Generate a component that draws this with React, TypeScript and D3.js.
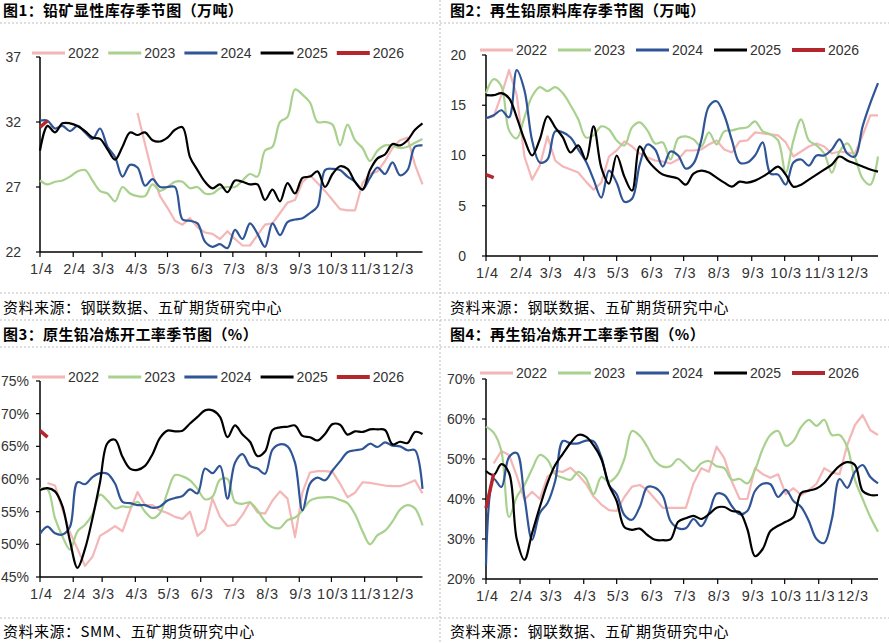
import React from "react";
import * as d3 from "d3";

// series order and colours
const years = ["2022", "2023", "2024", "2025", "2026"];
const colors = ["#F4B6B6", "#A9D18E", "#2F5597", "#000000", "#B3262C"];

// x-axis ticks (month/day)
const tickLabels = ["1/4", "2/4", "3/3", "4/3", "5/3", "6/3", "7/3", "8/3", "9/3", "10/3", "11/3", "12/3"];
const tickDays = [[0, 4], [1, 4], [2, 3], [3, 3], [4, 3], [5, 3], [6, 3], [7, 3], [8, 3], [9, 3], [10, 3], [11, 3]];

const N = (n: number) => Array(n).fill(null) as (number | null)[];

// 图1 铅矿显性库存 (万吨), weekly from 1/4
const ore2022 = [...N(13), 32.7, 30.3, 28.0, 26.3, 25.4, 24.4, 24.1, 24.6, 23.9, 23.5, 23.4, 23.0, 23.6, 23.0, 22.5, 22.5, 23.3, 24.1, 24.2, 25.0, 25.8, 26.0, 27.4, 27.9, 27.3, 26.7, 26.0, 25.3, 25.2, 25.2, 27.3, 28.0, 28.2, 29.0, 30.0, 30.6, 30.8, 28.7, 27.2];
const ore2023 = [27.5, 27.2, 27.4, 27.5, 27.8, 28.2, 28.3, 27.5, 26.7, 26.5, 25.9, 27.0, 26.5, 26.3, 26.3, 27.2, 26.7, 27.0, 27.4, 27.4, 26.9, 27.0, 26.5, 26.5, 26.9, 27.0, 27.0, 27.5, 28.0, 27.8, 29.8, 30.1, 32.0, 32.4, 34.5, 34.1, 33.5, 32.0, 32.0, 31.8, 30.2, 31.8, 30.6, 30.0, 29.0, 29.8, 30.2, 30.2, 30.0, 30.1, 30.4, 30.7];
const ore2024 = [32.1, 32.1, 31.5, 31.7, 31.3, 31.7, 31.2, 30.7, 31.5, 30.1, 29.3, 27.8, 28.7, 28.5, 27.1, 27.6, 27.0, 27.0, 27.0, 24.5, 24.4, 24.2, 22.8, 22.4, 22.6, 22.3, 23.7, 23.0, 24.2, 23.4, 22.4, 24.2, 23.3, 24.3, 24.5, 24.6, 25.0, 25.5, 28.3, 28.4, 28.3, 27.8, 27.4, 26.8, 27.7, 28.5, 28.0, 28.9, 27.9, 28.3, 30.1, 30.2];
const ore2025 = [29.8, 31.7, 31.2, 31.9, 31.9, 31.7, 31.3, 30.8, 30.7, 29.9, 29.1, 30.1, 31.2, 31.0, 31.2, 30.6, 30.5, 30.8, 31.4, 31.6, 29.3, 28.3, 27.4, 26.9, 27.2, 26.6, 27.5, 27.4, 27.2, 27.2, 26.0, 26.8, 25.9, 27.3, 26.5, 27.7, 27.8, 28.2, 27.0, 28.0, 28.6, 28.4, 27.4, 26.8, 28.3, 29.2, 29.5, 30.3, 30.2, 30.6, 31.4, 31.9];
const ore2026 = [31.6, 32.1];

// 图2 再生铅原料库存 (万吨)
const scrap2022 = [13.7, 13.9, 16.0, 18.5, 16.0, 9.9, 7.6, 9.0, 11.9, 9.5, 8.9, 8.6, 8.3, 7.4, 6.6, 7.3, 9.9, 10.5, 11.4, 10.9, 10.2, 9.8, 9.5, 9.4, 9.2, 9.6, 10.5, 10.5, 10.6, 11.1, 11.5, 10.6, 10.3, 11.4, 11.5, 12.3, 12.2, 12.1, 12.0, 11.3, 9.9, 10.4, 10.9, 11.2, 10.9, 10.2, 10.4, 10.3, 10.2, 12.0, 14.0, 14.0];
const scrap2023 = [16.2, 17.6, 16.9, 12.5, 11.7, 13.8, 15.9, 16.8, 16.4, 16.8, 16.2, 15.0, 13.6, 11.8, 12.0, 12.9, 12.6, 11.5, 11.0, 12.8, 13.3, 12.5, 11.2, 11.3, 9.6, 11.7, 11.9, 11.6, 10.9, 12.3, 11.1, 12.4, 12.5, 12.7, 12.8, 13.4, 12.4, 12.1, 11.5, 8.3, 11.5, 13.6, 11.5, 11.0, 10.2, 8.3, 10.4, 11.2, 9.8, 7.7, 7.1, 9.9];
const scrap2024 = [13.7, 14.0, 14.5, 13.8, 18.5, 16.5, 11.5, 9.3, 9.6, 12.4, 12.3, 11.8, 10.6, 9.4, 7.6, 5.8, 8.5, 7.3, 5.4, 5.7, 9.1, 11.1, 10.6, 8.9, 10.4, 10.0, 8.7, 9.2, 11.5, 14.9, 15.4, 14.0, 11.5, 9.3, 9.3, 10.0, 11.3, 8.2, 8.1, 7.1, 9.3, 9.6, 9.0, 10.0, 10.0, 10.6, 11.6, 10.2, 9.9, 12.9, 15.2, 17.2];
const scrap2025 = [16.0, 16.0, 16.2, 15.7, 13.8, 11.6, 10.0, 11.6, 13.9, 12.8, 11.8, 10.3, 11.0, 9.6, 12.9, 8.8, 7.2, 10.0, 7.9, 6.5, 10.9, 9.6, 8.7, 8.1, 7.9, 7.7, 7.1, 8.2, 8.5, 8.3, 7.8, 7.3, 6.9, 7.4, 7.3, 7.5, 7.9, 8.4, 8.9, 8.1, 6.9, 7.1, 7.6, 8.1, 8.6, 9.1, 9.9, 9.5, 9.2, 8.9, 8.6, 8.4];
const scrap2026 = [8.1, 7.8];

// 图3 原生铅冶炼开工率 (%)
const primary2022 = [...N(1), 59.4, 59.0, 55.3, 51.8, 49.3, 46.7, 48.1, 51.3, 52.0, 52.8, 52.0, 55.2, 58.0, 56.0, 56.0, 55.2, 54.8, 54.2, 53.9, 55.0, 51.3, 52.3, 57.0, 54.2, 52.8, 53.0, 54.5, 56.5, 54.9, 54.7, 56.7, 58.1, 57.0, 51.1, 58.0, 61.0, 61.2, 61.2, 61.1, 59.3, 57.2, 57.9, 59.5, 59.4, 59.2, 59.0, 58.9, 58.9, 59.3, 59.8, 57.8];
const primary2023 = [58.5, 58.4, 54.0, 51.2, 49.2, 52.0, 53.0, 54.6, 57.6, 56.7, 55.5, 55.8, 55.7, 56.5, 55.0, 54.0, 54.8, 58.0, 60.6, 60.4, 59.8, 58.5, 56.9, 57.3, 59.9, 60.0, 56.5, 56.2, 56.4, 55.2, 53.5, 52.6, 52.5, 53.7, 54.1, 55.2, 56.7, 57.1, 57.2, 57.2, 56.8, 56.3, 54.6, 52.0, 50.0, 51.4, 52.1, 53.5, 55.3, 56.0, 55.5, 52.9];
const primary2024 = [51.6, 52.7, 51.7, 51.5, 52.7, 59.5, 59.2, 60.3, 60.9, 60.8, 59.3, 56.5, 56.3, 56.0, 56.0, 55.6, 55.8, 56.7, 57.1, 57.4, 58.4, 57.8, 61.6, 60.9, 62.0, 57.0, 62.5, 63.8, 62.0, 61.6, 60.8, 64.5, 65.3, 65.0, 62.5, 55.2, 59.3, 60.2, 59.8, 61.3, 62.7, 64.1, 64.4, 64.6, 65.4, 64.9, 65.6, 65.1, 65.0, 64.4, 64.4, 58.5];
const primary2025 = [58.3, 58.6, 58.1, 55.8, 50.5, 46.4, 49.3, 54.0, 59.5, 65.5, 66.0, 63.4, 61.6, 61.4, 62.0, 63.8, 66.3, 67.4, 67.3, 67.4, 68.5, 69.5, 70.5, 70.5, 69.5, 66.4, 68.2, 66.8, 65.7, 63.5, 64.2, 67.5, 67.9, 68.0, 68.2, 66.6, 66.4, 65.9, 66.9, 68.4, 68.3, 66.8, 67.3, 67.2, 67.6, 67.6, 67.5, 65.3, 65.7, 65.5, 67.2, 66.9];
const primary2026 = [67.4, 66.4];

// 图4 再生铅冶炼开工率 (%)
const secondary2022 = [...N(1), 48.9, 52.0, 51.0, 45.8, 39.8, 41.8, 40.0, 45.6, 47.0, 46.8, 47.8, 46.0, 43.8, 40.6, 38.6, 37.2, 37.0, 40.5, 43.1, 43.5, 42.2, 40.0, 37.8, 37.8, 37.8, 37.8, 43.9, 47.7, 46.8, 53.1, 50.2, 44.3, 40.0, 40.0, 47.7, 46.2, 45.3, 46.2, 41.2, 42.7, 41.0, 42.2, 43.8, 47.7, 46.6, 46.2, 53.5, 58.5, 61.0, 57.2, 56.0];
const secondary2023 = [58.1, 56.6, 52.0, 35.5, 40.5, 43.5, 47.5, 51.0, 49.8, 46.2, 45.3, 44.8, 46.8, 45.2, 41.2, 45.5, 44.3, 45.8, 50.0, 57.0, 55.8, 53.0, 49.5, 48.1, 48.2, 50.0, 48.5, 47.0, 48.9, 49.5, 48.2, 47.7, 44.8, 45.0, 43.9, 47.3, 52.5, 56.0, 57.0, 53.3, 54.5, 58.0, 59.8, 58.3, 59.8, 56.0, 56.0, 53.0, 44.8, 40.0, 35.5, 31.8];
const secondary2024 = [23.5, 45.0, 43.0, 50.5, 51.5, 40.5, 29.8, 36.5, 39.0, 44.5, 54.5, 53.9, 53.9, 54.6, 54.4, 50.5, 43.5, 41.2, 36.0, 34.8, 38.0, 43.0, 42.8, 40.8, 34.5, 32.7, 32.7, 35.0, 33.2, 36.5, 41.3, 41.0, 38.2, 36.2, 37.0, 42.0, 43.8, 43.7, 40.5, 42.3, 39.5, 38.0, 34.5, 30.0, 29.0, 35.0, 45.0, 42.8, 46.8, 48.5, 45.5, 43.9];
const secondary2025 = [47.0, 46.0, 48.7, 46.5, 30.0, 24.8, 31.5, 38.0, 44.0, 48.5, 51.3, 54.0, 56.0, 55.6, 53.4, 50.0, 43.5, 39.5, 33.0, 32.3, 32.6, 31.0, 29.8, 29.7, 29.9, 34.3, 35.2, 35.8, 35.0, 36.2, 37.8, 38.0, 37.0, 36.7, 32.5, 25.7, 27.5, 32.0, 33.3, 34.3, 35.5, 41.5, 42.1, 42.6, 44.0, 46.3, 48.3, 49.2, 48.5, 42.0, 41.0, 41.0];
const secondary2026 = [37.7, 46.3];

const weeks = d3.range(52).map((i) => new Date(2025, 0, 4 + 7 * i));
const tickDates = tickDays.map(([m, d]) => new Date(2025, m, d));

const font = "'Liberation Sans', 'Noto Sans CJK SC', sans-serif";
const cjk = "'Noto Sans CJK SC', sans-serif";

type Cfg = {
  title: string;
  source: string;
  tx: number;
  titleY: number;
  sourceY: number;
  left: number;
  right: number;
  top: number;
  bottom: number;
  domain: [number, number];
  ticks: number[];
  pct: boolean;
  labelX: number;
  legendX: number;
  legendY: number;
  legendStep: number;
  series: (number | null)[][];
};

const panels: Cfg[] = [
  {
    title: "图1：铅矿显性库存季节图（万吨）",
    source: "资料来源：钢联数据、五矿期货研究中心",
    tx: 3, titleY: 15.5, sourceY: 313,
    left: 40, right: 422.5, top: 57, bottom: 252,
    domain: [22, 37], ticks: [22, 27, 32, 37], pct: false, labelX: 21,
    legendX: 32, legendY: 53, legendStep: 76.2,
    series: [ore2022, ore2023, ore2024, ore2025, ore2026],
  },
  {
    title: "图2：再生铅原料库存季节图（万吨）",
    source: "资料来源：钢联数据、五矿期货研究中心",
    tx: 450, titleY: 15.5, sourceY: 313,
    left: 486, right: 878, top: 55, bottom: 256,
    domain: [0, 20], ticks: [0, 5, 10, 15, 20], pct: false, labelX: 466,
    legendX: 480, legendY: 50, legendStep: 78,
    series: [scrap2022, scrap2023, scrap2024, scrap2025, scrap2026],
  },
  {
    title: "图3：原生铅冶炼开工率季节图（%）",
    source: "资料来源：SMM、五矿期货研究中心",
    tx: 3, titleY: 339.5, sourceY: 637,
    left: 40, right: 422.5, top: 381, bottom: 577,
    domain: [45, 75], ticks: [45, 50, 55, 60, 65, 70, 75], pct: true, labelX: 29,
    legendX: 32, legendY: 377, legendStep: 76.2,
    series: [primary2022, primary2023, primary2024, primary2025, primary2026],
  },
  {
    title: "图4：再生铅冶炼开工率季节图（%）",
    source: "资料来源：钢联数据、五矿期货研究中心",
    tx: 450, titleY: 339.5, sourceY: 637,
    left: 486, right: 878, top: 379, bottom: 579,
    domain: [20, 70], ticks: [20, 30, 40, 50, 60, 70], pct: true, labelX: 475,
    legendX: 480, legendY: 373, legendStep: 78,
    series: [secondary2022, secondary2023, secondary2024, secondary2025, secondary2026],
  },
];

function Panel({ p }: { p: Cfg }) {
  const x = d3.scaleTime().domain([weeks[0], weeks[51]]).range([p.left, p.right]);
  const y = d3.scaleLinear().domain(p.domain).range([p.bottom, p.top]);

  const line = (data: (number | null)[], smooth: boolean) =>
    d3
      .line<number | null>()
      .defined((d) => d != null)
      .x((_, i) => x(weeks[i]))
      .y((d) => y(d as number))
      .curve(smooth ? d3.curveCatmullRom.alpha(0.5) : d3.curveLinear)(data) ?? "";

  return (
    <g>
      <text x={p.tx} y={p.titleY} fontFamily={cjk} fontWeight={700} fontSize={15} letterSpacing={0.4} fill="#000">
        {p.title}
      </text>
      <text x={p.tx} y={p.sourceY} fontFamily={cjk} fontSize={15} letterSpacing={0.5} fill="#000">
        {p.source}
      </text>

      {/* axes */}
      <line x1={p.left} x2={p.left} y1={p.top} y2={p.bottom} stroke="#000" strokeWidth={1.5} />
      <line x1={p.left} x2={p.right} y1={p.bottom} y2={p.bottom} stroke="#000" strokeWidth={1.5} />
      {p.ticks.map((t) => (
        <g key={t}>
          <line x1={p.left - 4} x2={p.left} y1={y(t)} y2={y(t)} stroke="#000" strokeWidth={1.2} />
          <text x={p.labelX} y={y(t)} dy="0.35em" textAnchor="end" fontFamily={font} fontSize={14} fill="#333">
            {p.pct ? `${t}%` : t}
          </text>
        </g>
      ))}
      {tickDates.map((d, i) => (
        <g key={i}>
          <line x1={x(d)} x2={x(d)} y1={p.bottom} y2={p.bottom + 5} stroke="#000" strokeWidth={1.2} />
          <text x={x(d) + 1.5} y={p.bottom + 22} textAnchor="middle" fontFamily={font} fontSize={14.5} letterSpacing={0.9} fill="#333">
            {tickLabels[i]}
          </text>
        </g>
      ))}

      {/* series */}
      {p.series.map((s, k) => (
        <path
          key={k}
          d={line(s, k !== 0)}
          fill="none"
          stroke={colors[k]}
          strokeWidth={k === 4 ? 3.5 : 2.2}
          strokeLinejoin="round"
        />
      ))}

      {/* legend */}
      {years.map((yr, k) => {
        const lx = p.legendX + k * p.legendStep;
        return (
          <g key={yr}>
            <line x1={lx} x2={lx + 33} y1={p.legendY} y2={p.legendY} stroke={colors[k]} strokeWidth={k === 4 ? 4 : 3} />
            <text x={lx + 36} y={p.legendY} dy="0.36em" fontFamily={font} fontSize={14} fill="#333">
              {yr}
            </text>
          </g>
        );
      })}
    </g>
  );
}

export default function App() {
  const dash = { stroke: "#bdbdbd", strokeWidth: 1, strokeDasharray: "2,2" };
  return (
    <svg width={889} height={643} style={{ position: "absolute", left: 0, top: 0, background: "#fff" }}>
      <rect width={889} height={643} fill="#fff" />
      <line x1={0} x2={889} y1={23} y2={23} {...dash} />
      <line x1={0} x2={889} y1={293} y2={293} {...dash} />
      <line x1={0} x2={889} y1={320} y2={320} {...dash} />
      <line x1={0} x2={889} y1={347} y2={347} {...dash} />
      <line x1={0} x2={889} y1={618} y2={618} {...dash} />
      <line x1={440} x2={440} y1={0} y2={643} {...dash} />
      {panels.map((p, i) => (
        <Panel key={i} p={p} />
      ))}
    </svg>
  );
}
